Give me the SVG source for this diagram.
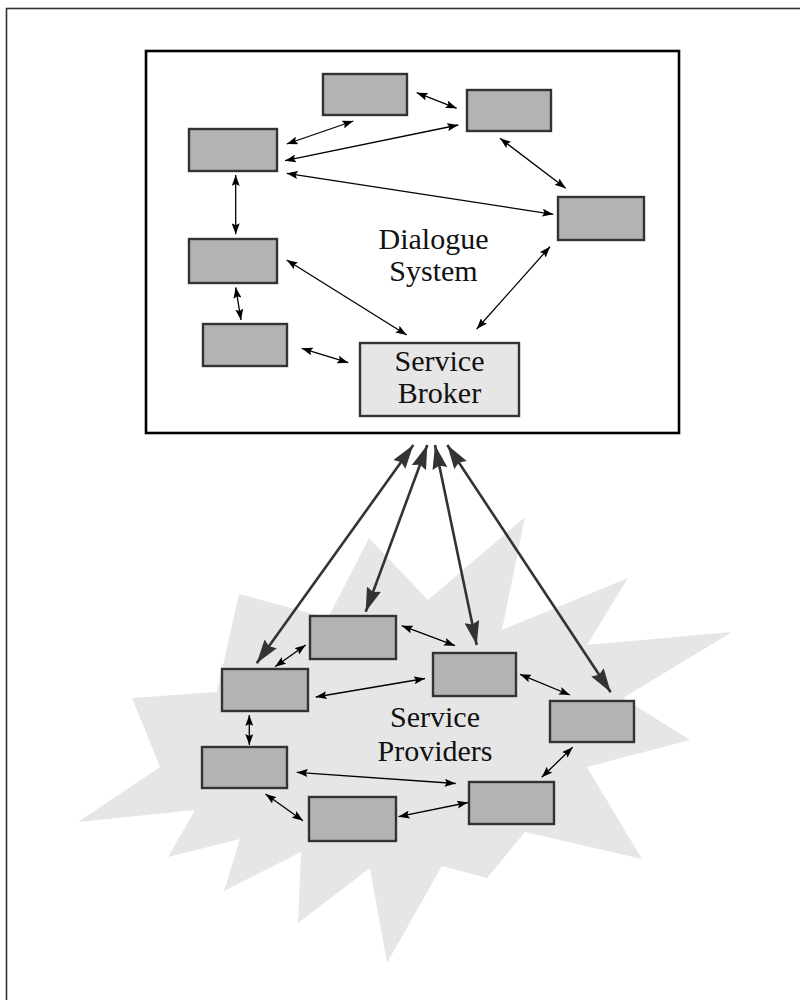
<svg xmlns="http://www.w3.org/2000/svg" width="800" height="1000" viewBox="0 0 800 1000">
<style>
.frame{fill:none;stroke:#333;stroke-width:1.6}
.sys{fill:#fff;stroke:#000;stroke-width:2.6}
.node rect{fill:#b3b3b3;stroke:#333;stroke-width:2.4}
.broker rect{fill:#e6e6e6;stroke:#333;stroke-width:2.4}
.burst{fill:#e6e6e6;stroke:none}
.lbl{font-family:"Liberation Serif","Times New Roman",serif;font-size:30px;fill:#111;text-anchor:middle}
.thin{stroke:#000;stroke-width:1.3;fill:none;marker-start:url(#sa);marker-end:url(#sa)}
.thick{stroke:#333;stroke-width:2.6;fill:none;marker-start:url(#ba);marker-end:url(#ba)}
</style>
<defs>
<marker id="sa" markerUnits="userSpaceOnUse" viewBox="0 0 11 8" refX="11" refY="4" markerWidth="11" markerHeight="8" orient="auto-start-reverse">
<path d="M0,0 L11,4 L0,8 L2,4 z" fill="#000"/>
</marker>
<marker id="ba" markerUnits="userSpaceOnUse" viewBox="0 0 24 15" refX="24" refY="7.5" markerWidth="24" markerHeight="15" orient="auto-start-reverse">
<path d="M0,0 L24,7.5 L0,15 L3,7.5 z" fill="#333"/>
</marker>
</defs>
<rect class="frame" x="6.5" y="8.5" width="800" height="1000"/>
<rect class="sys" x="146" y="51" width="533" height="382"/>
<polygon class="burst" points="239,594 328,618 369,538 428,600 525,517 502,630 628,578 587,645 732,632 623,698 690,740 587,767 642,859 525,832 487,878 442,866 387,963 370,868 298,923 301,852 224,891 240,839 168,857 195,810 78,822 160,767 132,698 217,692"/>
<g id="connectors">
<line class="thin" x1="416.7" y1="92.7" x2="456.7" y2="108.3"/>
<line class="thin" x1="353.3" y1="121" x2="286.7" y2="144"/>
<line class="thin" x1="285" y1="160.7" x2="458.3" y2="125"/>
<line class="thin" x1="286.7" y1="173.3" x2="553.3" y2="214.3"/>
<line class="thin" x1="500" y1="138.3" x2="565.7" y2="188.3"/>
<line class="thin" x1="235.7" y1="175" x2="235.7" y2="234.3"/>
<line class="thin" x1="235.7" y1="287.3" x2="241" y2="320"/>
<line class="thin" x1="286.7" y1="260" x2="406.7" y2="335"/>
<line class="thin" x1="301.7" y1="348.3" x2="348.3" y2="362.7"/>
<line class="thin" x1="550" y1="246.7" x2="476.7" y2="329"/>
<line class="thick" x1="413.3" y1="445" x2="256.7" y2="663.3"/>
<line class="thick" x1="427.3" y1="445" x2="365.7" y2="611.7"/>
<line class="thick" x1="435" y1="445" x2="476.7" y2="645"/>
<line class="thick" x1="447.3" y1="445" x2="610.7" y2="692.3"/>
<line class="thin" x1="401.7" y1="625.7" x2="455" y2="645.7"/>
<line class="thin" x1="275" y1="666.7" x2="305.7" y2="645"/>
<line class="thin" x1="315.7" y1="697" x2="425" y2="678.5"/>
<line class="thin" x1="520" y1="674.3" x2="570" y2="695"/>
<line class="thin" x1="572.7" y1="747.3" x2="541.7" y2="777.3"/>
<line class="thin" x1="249.3" y1="715" x2="249.3" y2="745"/>
<line class="thin" x1="265.5" y1="794" x2="303" y2="820.7"/>
<line class="thin" x1="296.7" y1="772.3" x2="455.7" y2="783.5"/>
<line class="thin" x1="398.5" y1="816.7" x2="468" y2="802.5"/>
</g>
<g id="dlg-a" class="node"><rect x="323" y="74" width="84" height="41"/></g>
<g id="dlg-b" class="node"><rect x="467" y="90" width="84" height="41"/></g>
<g id="dlg-c" class="node"><rect x="189" y="129" width="88" height="42"/></g>
<g id="dlg-d" class="node"><rect x="189" y="239" width="88" height="44"/></g>
<g id="dlg-e" class="node"><rect x="203" y="324" width="84" height="42"/></g>
<g id="dlg-f" class="node"><rect x="558" y="197" width="86" height="43"/></g>
<g id="broker" class="broker"><rect x="360" y="343" width="159" height="73"/>
<text class="lbl" x="439.5" y="371">Service</text>
<text class="lbl" x="439.5" y="403">Broker</text></g>
<g id="dialogue-label"><text class="lbl" x="433.5" y="249">Dialogue</text>
<text class="lbl" x="433.5" y="281">System</text></g>
<g id="sp-g" class="node"><rect x="310" y="616" width="86" height="43"/></g>
<g id="sp-h" class="node"><rect x="222" y="669" width="86" height="42"/></g>
<g id="sp-i" class="node"><rect x="433" y="653" width="83" height="43"/></g>
<g id="sp-j" class="node"><rect x="550" y="701" width="84" height="41"/></g>
<g id="sp-k" class="node"><rect x="202" y="747" width="85" height="41"/></g>
<g id="sp-l" class="node"><rect x="309" y="797" width="87" height="44"/></g>
<g id="sp-m" class="node"><rect x="469" y="782" width="85" height="42"/></g>
<g id="providers-label"><text class="lbl" x="435" y="727">Service</text>
<text class="lbl" x="435" y="761">Providers</text></g>
</svg>
